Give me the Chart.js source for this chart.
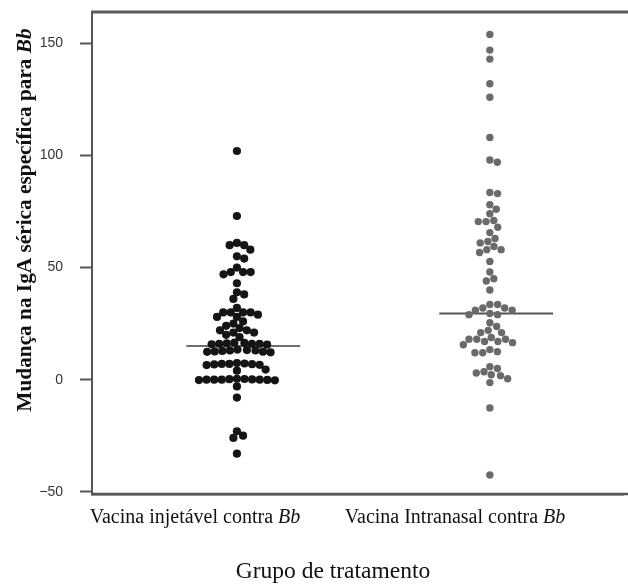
<!DOCTYPE html>
<html>
<head>
<meta charset="utf-8">
<script src="https://cdn.jsdelivr.net/npm/chart.js@4"></script>
<style>
  html, body { margin: 0; padding: 0; background: #fff; }
  #wrap { width: 628px; height: 584px; }
</style>
</head>
<body>
<div id="wrap"><canvas id="chart" width="628" height="584"></canvas></div>
<script>
// Values
const groups = ["Vacina injetável contra ", "Vacina Intranasal contra "];
const injetavel = [
  102, 73, 61, 60, 60, 58, 55, 54, 50, 48, 48, 48, 47, 43, 39, 38, 36, 32,
  30, 30, 30, 30, 29, 28, 28, 26, 25, 24, 23, 22, 22, 21, 21, 20, 19,
  16.5, 16, 16, 15.8, 16.2, 16, 15.6, 16.4,
  13, 12.5, 12.8, 13.2, 12.6, 13, 12.4, 13.4, 12.2,
  7, 6.5, 7.2, 6.8, 7, 6.6, 7.4, 6.9,
  4.5, 4,
  0, 0.3, -0.2, 0, 0.4, -0.3, 0, 0.2, -0.1, 0.1, 0,
  -3, -8, -23, -25, -26, -33
];
const intranasal = [
  154, 147, 143, 132, 126, 108, 98, 97, 83.5, 83, 78, 76, 74, 71, 70.5, 70.5,
  68, 65.6, 63, 61.6, 61, 59.4, 58, 58, 56.7, 52.7, 48, 45, 44, 40,
  33.5, 33.5, 32, 32, 31, 31, 29.5, 29, 29,
  25.4, 23.7, 22, 21, 21,
  18.8, 18, 18, 18, 17, 17, 16.5, 15.6,
  13.4, 12.5, 12, 12,
  5.8, 5, 3.5, 3, 2.2, 1.8, 0.4, -1.3,
  -12.6, -42.5
];
const medians = [15, 29.5];
const yTicks = [-50, 0, 50, 100, 150];

const serif = "'Liberation Serif', 'Times New Roman', serif";
const sans = "'Liberation Sans', Arial, sans-serif";

function pts(vals, c) {
  return vals.map(v => ({ x: c, y: v }));
}
function medLine(m, c) {
  return [{ x: c - 0.2, y: m }, { x: c + 0.25, y: m }];
}

// draws mixed normal / italic text centred on x
function mixedText(ctx, x, y, plain, ital, size, weight) {
  const f1 = weight + " " + size + "px " + serif;
  const f2 = "italic " + weight + " " + size + "px " + serif;
  ctx.font = f1;
  const w1 = ctx.measureText(plain).width;
  ctx.font = f2;
  const w2 = ctx.measureText(ital).width;
  let sx = x - (w1 + w2) / 2;
  ctx.textAlign = "left";
  ctx.font = f1;
  ctx.fillText(plain, sx, y);
  ctx.font = f2;
  ctx.fillText(ital, sx + w1, y);
}

const textPlugin = {
  id: "texts",
  afterDraw(chart) {
    const ctx = chart.ctx;
    const a = chart.chartArea;
    ctx.save();
    // top and bottom frame lines out to the edge
    ctx.strokeStyle = "#5a5a5a";
    ctx.lineWidth = 3;
    ctx.beginPath();
    ctx.moveTo(a.left - 1, a.top);
    ctx.lineTo(628, a.top);
    ctx.stroke();
    ctx.strokeStyle = "#555";
    ctx.lineWidth = 2.5;
    ctx.beginPath();
    ctx.moveTo(a.left - 1, a.bottom);
    ctx.lineTo(628, a.bottom);
    ctx.stroke();

    ctx.fillStyle = "#111";
    ctx.textBaseline = "alphabetic";
    mixedText(ctx, 195, 523, groups[0], "Bb", 20, "normal");
    mixedText(ctx, 455, 523, groups[1], "Bb", 20, "normal");

    ctx.font = "23.5px " + serif;
    ctx.textAlign = "center";
    ctx.fillText("Grupo de tratamento", 333, 578);

    ctx.translate(31, 220);
    ctx.rotate(-Math.PI / 2);
    mixedText(ctx, 0, 0, "Mudança na IgA sérica específica para ", "Bb", 21.3, "bold");
    ctx.restore();
  }
};

const chart = new Chart(document.getElementById("chart"), {
  type: "scatter",
  data: {
    datasets: [
      { data: pts(injetavel, 1), backgroundColor: "#151515", borderWidth: 0, pointRadius: 4.1 },
      { data: pts(intranasal, 2), backgroundColor: "#6a6a6a", borderWidth: 0, pointRadius: 3.7 },
      { type: "line", data: medLine(medians[0], 1), borderColor: "#6e6e6e", borderWidth: 2, pointRadius: 0 },
      { type: "line", data: medLine(medians[1], 2), borderColor: "#555555", borderWidth: 2, pointRadius: 0 }
    ]
  },
  options: {
    responsive: false,
    animation: false,
    layout: { padding: { top: 12, left: 0, right: 0, bottom: 0 } },
    plugins: { legend: { display: false }, tooltip: { enabled: false } },
    scales: {
      x: {
        type: "linear",
        min: 0.427,
        max: 2.53,
        grid: { display: false },
        border: { display: true, color: "#555", width: 2.5 },
        ticks: { display: false },
        afterFit(s) { s.height = 90; }
      },
      y: {
        min: -51,
        max: 164,
        afterBuildTicks(s) { s.ticks = yTicks.map(v => ({ value: v })); },
        grid: { drawOnChartArea: false, drawTicks: true, tickLength: 12, tickColor: "#555", tickWidth: 2 },
        border: { display: true, color: "#555", width: 2 },
        ticks: {
          color: "#333",
          padding: 17,
          font: { family: sans, size: 14 },
          callback: v => (v < 0 ? "\u2212" + Math.abs(v) : String(v))
        },
        afterFit(s) { s.width = 92; s.paddingTop = 0; s.paddingBottom = 0; }
      }
    }
  },
  plugins: [textPlugin]
});

// beeswarm: spread points sideways in pixel space so they do not overlap
function swarm(ds, centre, d) {
  const xs = chart.scales.x, ys = chart.scales.y;
  const unit = xs.getPixelForValue(1) - xs.getPixelForValue(0);
  const pts = ds.data;
  const order = pts.map((p, i) => i).sort((a, b) => pts[b].y - pts[a].y);
  const placed = [];
  order.forEach(i => {
    const py = ys.getPixelForValue(pts[i].y);
    const cand = [0];
    placed.forEach(p => {
      const dy = py - p.y;
      if (Math.abs(dy) < d) {
        const dx = Math.sqrt(d * d - dy * dy);
        cand.push(p.x + dx, p.x - dx);
      }
    });
    cand.sort((a, b) => Math.abs(a) - Math.abs(b));
    let best = 0;
    for (const c of cand) {
      if (placed.every(p => (c - p.x) ** 2 + (py - p.y) ** 2 >= d * d - 0.01)) { best = c; break; }
    }
    placed.push({ x: best, y: py });
    pts[i].x = centre + best / unit;
  });
}
swarm(chart.data.datasets[0], 1, 7.6);
swarm(chart.data.datasets[1], 2, 7.8);
chart.update("none");
</script>
</body>
</html>
